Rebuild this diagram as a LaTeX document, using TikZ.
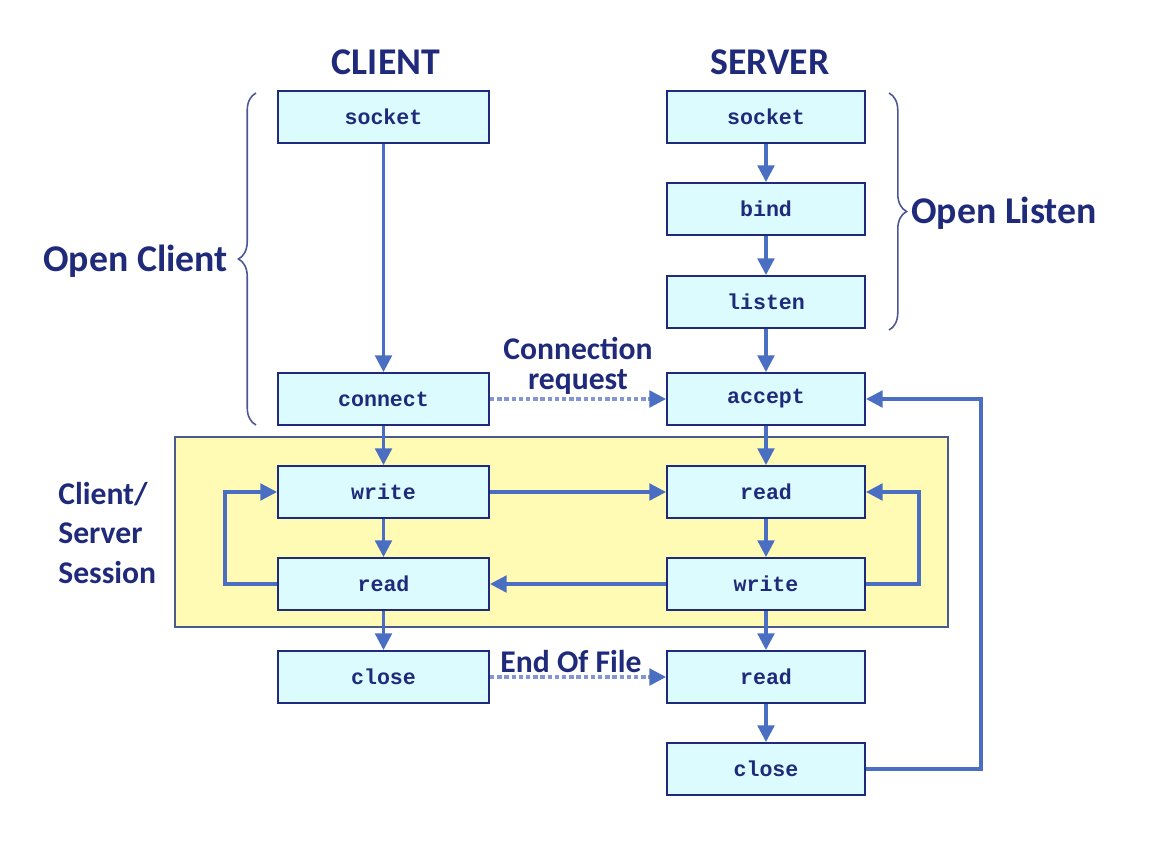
\documentclass[tikz,border=0pt]{standalone}
\usepackage{fontspec}
\setmainfont{Carlito}
\newfontfamily\codefont{Liberation Mono}
\usetikzlibrary{arrows.meta,decorations.pathreplacing}
\definecolor{navy}{HTML}{1F2A7A}
\definecolor{arrowblue}{HTML}{4A6EC2}
\definecolor{boxfill}{HTML}{DCFBFF}
\definecolor{sessfill}{HTML}{FFFBB5}
\definecolor{sessline}{HTML}{4A5A8C}
\definecolor{dotblue}{HTML}{8496D2}
\begin{document}
\begin{tikzpicture}[x=0.02cm,y=-0.02cm,
  fn/.style={draw=navy, line width=1.1pt, fill=boxfill, minimum height=1.04cm, inner sep=0pt,
    font=\codefont\bfseries\fontsize{12.3}{14}\selectfont, text=navy},
  cbox/.style={fn, minimum width=4.22cm},
  sbox/.style={fn, minimum width=3.96cm},
  conn/.style={draw=arrowblue, line width=1.8pt, -{Triangle[length=9.5pt,width=9.5pt]}},
  dotconn/.style={draw=dotblue, line width=1.8pt, dash pattern=on 2.5pt off 1.6pt,
    -{Triangle[length=9.5pt,width=9.5pt,color=arrowblue]}},
  bigl/.style={text=navy, font=\bfseries\fontsize{21.5}{24}\selectfont, inner sep=0pt},
  midl/.style={text=navy, font=\bfseries\fontsize{18}{17}\selectfont, inner sep=0pt, align=center},
  bracestyle/.style={draw=navy!80!white, line width=0.9pt, decorate,
    decoration={brace, amplitude=10pt}}
]
\useasboundingbox (0,0) rectangle (1176,846);

% session area
\node[draw=sessline, line width=1.1pt, fill=sessfill, minimum width=15.46cm, minimum height=3.8cm, inner sep=0pt] (session) at (561.5,532) {};

% headings
\node[bigl] (hclient) at (386,62) {CLIENT};
\node[bigl] (hserver) at (770,62) {SERVER};

% client boxes
\node[cbox] (csocket) at (383.5,117) {socket};
\node[cbox] (cconnect) at (383.5,399) {connect};
\node[cbox] (cwrite) at (383.5,492) {write};
\node[cbox] (cread) at (383.5,584) {read};
\node[cbox] (cclose) at (383.5,677) {close};

% server boxes
\node[sbox] (ssocket) at (766,117) {socket};
\node[sbox] (sbind) at (766,209) {bind};
\node[sbox] (slisten) at (766,302) {listen};
\node[sbox] (saccept) at (766,399) {accept};
\node[sbox] (sread) at (766,492) {read};
\node[sbox] (swrite) at (766,584) {write};
\node[sbox] (sread2) at (766,677) {read};
\node[sbox] (sclose) at (766,769) {close};

% client vertical flow
\draw[conn] (csocket) -- (cconnect);
\draw[conn] (cconnect) -- (cwrite);
\draw[conn] (cwrite) -- (cread);
\draw[conn] (cread) -- (cclose);

% server vertical flow
\draw[conn] (ssocket) -- (sbind);
\draw[conn] (sbind) -- (slisten);
\draw[conn] (slisten) -- (saccept);
\draw[conn] (saccept) -- (sread);
\draw[conn] (sread) -- (swrite);
\draw[conn] (swrite) -- (sread2);
\draw[conn] (sread2) -- (sclose);

% cross connections
\draw[dotconn] (cconnect) -- (saccept);
\draw[conn] (cwrite) -- (sread);
\draw[conn] (swrite) -- (cread);
\draw[dotconn] (cclose) -- (sread2);

% loops
\draw[conn] (cread.west) -- ++(-52,0) |- (cwrite.west);
\draw[conn] (swrite.east) -- ++(53,0) |- (sread.east);
\draw[conn] (sclose.east) -- ++(115,0) |- (saccept.east);

% labels
\node[midl] (lconn) at (578,366) {Connection\\request};
\node[midl] (leof) at (571,662) {End Of File};
\node[text=navy, font=\bfseries\fontsize{18}{22.7}\selectfont, inner sep=0pt, align=left, anchor=west] (lsess) at (58,533) {Client/\\Server\\Session};

% braces
\coordinate (bl1) at (256,425);
\coordinate (bl2) at (256,93);
\draw[bracestyle] (bl1) -- (bl2);
\node[bigl, anchor=east] (lopenc) at (228,261) {Open Client};

\coordinate (br1) at (889,93);
\coordinate (br2) at (889,330);
\draw[bracestyle] (br1) -- (br2);
\node[bigl, anchor=west] (lopenl) at (911,213) {Open Listen};
\end{tikzpicture}
\end{document}
